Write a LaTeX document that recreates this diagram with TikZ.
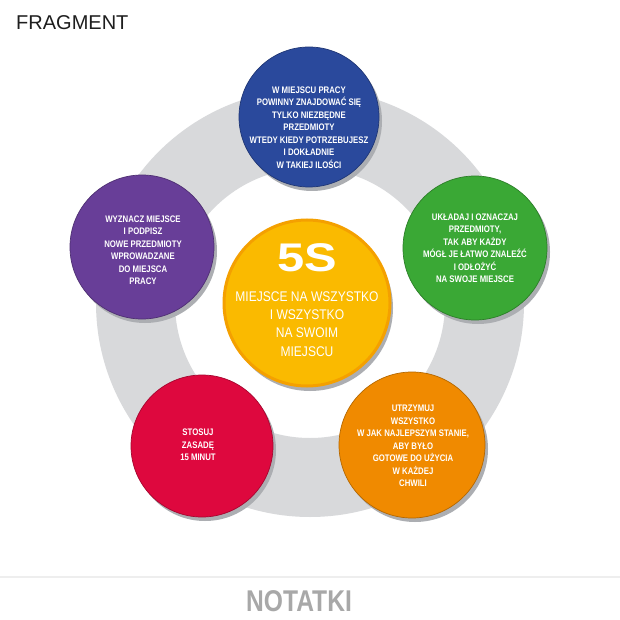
\documentclass[tikz,border=0pt]{standalone}
\usepackage{fontspec}
\setmainfont{Liberation Sans}
\newfontfamily\condf[FakeStretch=0.82]{Liberation Sans}
\newfontfamily\centf[FakeStretch=0.86]{Liberation Sans}
\newfontfamily\widef[FakeStretch=1.22]{Liberation Sans}
\usetikzlibrary{shadows}
\definecolor{ringgray}{RGB}{216,217,219}
\definecolor{shadowgray}{RGB}{172,174,178}
\definecolor{blueS}{RGB}{42,73,156}
\definecolor{purpleS}{RGB}{104,62,152}
\definecolor{greenS}{RGB}{58,168,53}
\definecolor{redS}{RGB}{222,8,62}
\definecolor{orangeS}{RGB}{240,138,0}
\definecolor{yellowS}{RGB}{250,186,0}
\definecolor{yellowedge}{RGB}{244,160,0}
\definecolor{notegray}{RGB}{168,168,168}
\definecolor{linegray}{RGB}{238,238,238}
\definecolor{titlegray}{RGB}{30,30,30}
\begin{document}
\begin{tikzpicture}[x=1pt,y=-1pt,
  bubble/.style={circle, inner sep=0pt, draw=#1!75!black, line width=0.7pt, fill=#1,
    drop shadow={shadow xshift=3pt, shadow yshift=-4pt, fill=shadowgray, opacity=1}},
  btext/.style={text=white, font=\condf\bfseries\fontsize{9.5}{12.5}\selectfont, align=center, inner sep=0pt}]
\useasboundingbox (0,0) rectangle (620,620);
\fill[white] (0,0) rectangle (620,620);
% title
\node[anchor=west, inner sep=0pt, text=titlegray, font=\fontsize{20}{20}\selectfont] (title) at (16,23) {FRAGMENT};
% ring
\fill[ringgray, even odd rule] (310,303) circle (214pt) (310,303) circle (135pt);
% outer circles
\node[bubble=blueS, minimum size=140pt] (blue) at (309,117) {};
\node[bubble=purpleS, minimum size=144pt] (purple) at (142,247) {};
\node[bubble=greenS, minimum size=144pt] (green) at (475,248) {};
\node[bubble=redS, minimum size=142pt] (red) at (202,446) {};
\node[bubble=orangeS, minimum size=146pt] (orange) at (412,445) {};
% centre
\node[circle, inner sep=0pt, minimum size=166pt, fill=yellowS, draw=yellowedge, line width=3pt,
  drop shadow={shadow xshift=3pt, shadow yshift=-5pt, fill=shadowgray, opacity=1}] (centre) at (307,303) {};
% texts
\node[btext] (bluet) at (309,127.5) {W MIEJSCU PRACY\\POWINNY ZNAJDOWAĆ SIĘ\\TYLKO NIEZBĘDNE\\PRZEDMIOTY\\WTEDY KIEDY POTRZEBUJESZ\\I DOKŁADNIE\\W TAKIEJ ILOŚCI};
\node[btext] (purplet) at (143,250) {WYZNACZ MIEJSCE\\I PODPISZ\\NOWE PRZEDMIOTY\\WPROWADZANE\\DO MIEJSCA\\PRACY};
\node[btext] (greent) at (475,248) {UKŁADAJ I OZNACZAJ\\PRZEDMIOTY,\\TAK ABY KAŻDY\\MÓGŁ JE ŁATWO ZNALEŹĆ\\I ODŁOŻYĆ\\NA SWOJE MIEJSCE};
\node[btext] (redt) at (198,445) {STOSUJ\\ZASADĘ\\15 MINUT};
\node[btext] (oranget) at (413,446) {UTRZYMUJ\\WSZYSTKO\\W JAK NAJLEPSZYM STANIE,\\ABY BYŁO\\GOTOWE DO UŻYCIA\\W KAŻDEJ\\CHWILI};
\node[inner sep=0pt, text=white, font=\widef\bfseries\fontsize{40}{40}\selectfont] (fives) at (307,258) {5S};
\node[inner sep=0pt, text=white, align=center, font=\centf\fontsize{14}{18.3}\selectfont] (centret) at (307,324) {MIEJSCE NA WSZYSTKO\\I WSZYSTKO\\NA SWOIM\\MIEJSCU};
% footer
\draw[linegray, line width=1.5pt] (0,577) -- (620,577);
\node[inner sep=0pt, text=notegray, font=\condf\bfseries\fontsize{30}{30}\selectfont] (notes) at (299,601) {NOTATKI};
\end{tikzpicture}
\end{document}
